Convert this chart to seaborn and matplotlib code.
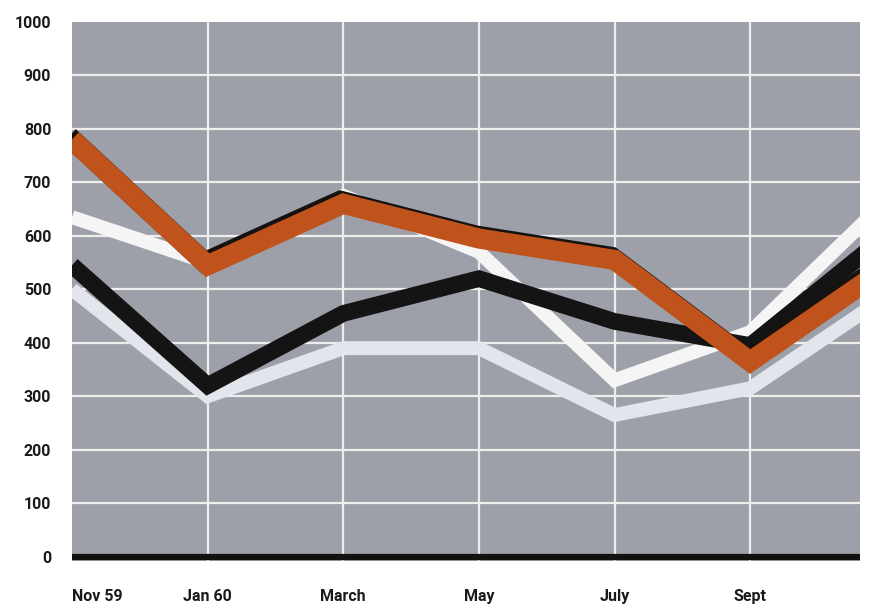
import numpy as np
import pandas as pd
import matplotlib
matplotlib.use("Agg")
import matplotlib.pyplot as plt
import matplotlib.patheffects as pe
import seaborn as sns

# month labels (every two months); last one falls just past the cropped edge
months = ["Nov 59", "Jan 60", "March", "May", "July", "Sept", "Nov 60"]
y_ticks = [0, 100, 200, 300, 400, 500, 600, 700, 800, 900, 1000]

# values
orange_vals = [780, 545, 660, 595, 555, 365, 540]
black_vals = [545, 320, 455, 520, 440, 395, 600]
white_top_vals = [635, 550, 675, 570, 330, 420, 665]
white_low_vals = [500, 300, 390, 390, 265, 315, 486]

pos = np.arange(len(months))
df = pd.DataFrame({
    "pos": np.tile(pos, 4),
    "value": white_low_vals + white_top_vals + black_vals + orange_vals,
    "series": (["white_low"] * len(pos) + ["white_top"] * len(pos)
               + ["black"] * len(pos) + ["orange"] * len(pos)),
})

sns.set_theme(style="white")
plt.rcParams["font.family"] = ["Roboto", "DejaVu Sans"]

fig = plt.figure(figsize=(8.75, 6.05), dpi=100)
fig.patch.set_facecolor("white")
ax = fig.add_axes([0.0823, 0.0727, 0.9006, 0.891])
ax.set_facecolor("#9da0a8")

# grid
for v in y_ticks[1:-1]:
    ax.axhline(v, color="#eeeeee", lw=1.6, zorder=1)
for p in pos[1:6]:
    ax.axvline(p, color="#eeeeee", lw=1.6, zorder=1)
ax.axhline(0, color="#111111", lw=4.5, zorder=2)

styles = {
    "white_low": dict(color="#e3e5ec", lw=10, z=3),
    "white_top": dict(color="#f5f5f5", lw=10, z=4),
    "black": dict(color="#141414", lw=12, z=5),
    "orange": dict(color="#c0531c", lw=14.5, z=6),
}
for name, st in styles.items():
    sub = df[df["series"] == name]
    sns.lineplot(data=sub, x="pos", y="value", color=st["color"], lw=st["lw"],
                 ax=ax, zorder=st["z"], legend=False, errorbar=None)
    line = ax.lines[-1]
    line.set_solid_joinstyle("miter")
    line.set_solid_capstyle("butt")
    if name == "orange":
        line.set_path_effects([
            pe.SimpleLineShadow(offset=(-2.2, 2.2), shadow_color="#161210", alpha=1.0),
            pe.Normal(),
        ])

ax.set_yticks(y_ticks)
ax.set_yticklabels([str(v) for v in y_ticks])
ax.set_xticks(pos)
ax.set_xticklabels(months)
ax.set_xlim(0, 5.81)
ax.set_ylim(-8, 1000)
ax.set_xlabel("")
ax.set_ylabel("")

for spine in ax.spines.values():
    spine.set_visible(False)

ax.tick_params(axis="y", length=0, pad=15, labelsize=11.5, labelcolor="#1a1a1a")
ax.tick_params(axis="x", length=0, pad=20, labelsize=11.5, labelcolor="#1a1a1a")
for lab in ax.get_yticklabels() + ax.get_xticklabels():
    lab.set_fontweight("bold")
ax.get_xticklabels()[0].set_horizontalalignment("left")

fig.savefig("out.png", dpi=100, facecolor="white")
